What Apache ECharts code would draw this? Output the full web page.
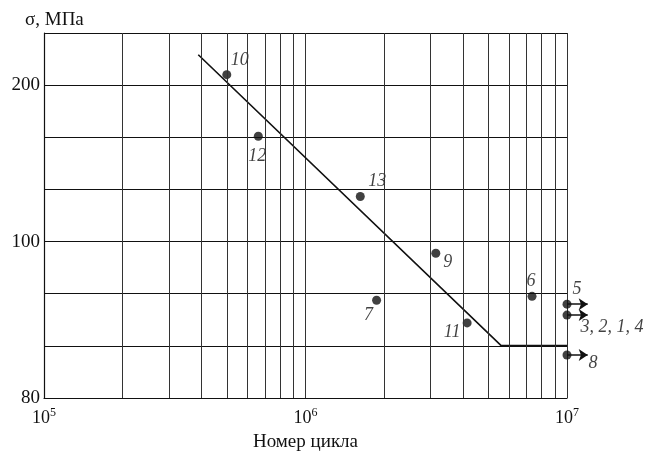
<!DOCTYPE html>
<html>
<head>
<meta charset="utf-8">
<script src="https://cdn.jsdelivr.net/npm/echarts@6/dist/echarts.min.js"></script>
<style>
  html, body { margin: 0; padding: 0; background: #fff; }
  #chart { width: 646px; height: 453px; }
</style>
</head>
<body>
<div id="chart"></div>
<script>
// Fatigue test results: stress amplitude vs. number of cycles
const pointLabels = ['10', '12', '13', '9', '7', '6', '11', '5', '3, 2, 1, 4', '8'];
const pointCycles = [5.0e5, 6.6e5, 1.62e6, 3.15e6, 1.87e6, 7.35e6, 4.15e6, 1e7, 1e7, 1e7];
const pointStress = [206.7, 167.3, 128.8, 98.5, 92.5, 93.0, 89.6, 92.0, 90.6, 85.5];

// Specimens that did not fail (run-outs) at the cycle limit
const runoutStress = [92.0, 90.6, 85.5];
const runoutCycles = 1e7;
const runoutArrowTo = 1.2e7;

// Fatigue curve: sloped part and endurance-limit plateau
const curveCycles = [3.89e5, 5.6e6, 1e7];
const curveStress = [219.4, 86.7, 86.7];

// Stress axis tick labels
const stressTicks = [80, 100, 200];

// Stress axis uses equal steps: 80→100 in 3 steps, 100→200 in 3 steps
function stressToUnit(s) {
  if (s <= 100) return (s - 80) / (20 / 3);
  return 3 + (s - 100) / (100 / 3);
}
const tickUnits = stressTicks.map(stressToUnit);

// Intermediate cycle gridlines 2..9 × 10^n
const minorCycles = [];
for (let e = 5; e < 7; e++) {
  for (let m = 2; m <= 9; m++) minorCycles.push(m * Math.pow(10, e));
}

const serif = '"Liberation Serif", "DejaVu Serif", serif';
const ink = '#111';

const labelOffsets = {
  '10': [13, -14], '12': [-1, 20], '13': [17, -15], '9': [12, 9],
  '7': [-8, 15], '6': [-1, -15], '11': [-15, 9], '5': [10, -15],
  '3, 2, 1, 4': [45, 12], '8': [26, 8]
};

const scatterData = pointCycles.map((c, i) => ({
  value: [c, stressToUnit(pointStress[i])],
  label: {
    show: true,
    formatter: pointLabels[i],
    position: 'inside',
    align: 'center',
    verticalAlign: 'middle',
    offset: labelOffsets[pointLabels[i]],
    fontFamily: serif,
    fontStyle: 'italic',
    fontSize: 18,
    color: '#111'
  }
}));

const chart = echarts.init(document.getElementById('chart'), null, { renderer: 'canvas' });
chart.setOption({
  backgroundColor: '#fff',
  animation: false,
  grid: { left: 44, right: 79, top: 33, bottom: 55, outerBoundsMode: 'none', containLabel: false },
  xAxis: {
    type: 'log',
    logBase: 10,
    min: 1e5,
    max: 1e7,
    name: 'Номер цикла',
    nameLocation: 'middle',
    nameGap: 35,
    nameTextStyle: { fontFamily: serif, fontSize: 19, color: '#111' },
    axisLine: { show: true, lineStyle: { color: ink, width: 1.2 } },
    axisTick: { show: false },
    splitLine: { show: true, lineStyle: { color: '#333', width: 1 } },
    axisLabel: {
      margin: 9,
      formatter: v => '{b|10}{s|' + Math.round(Math.log10(v)) + '}',
      rich: {
        b: { fontFamily: serif, fontSize: 18, color: '#111' },
        s: { fontFamily: serif, fontSize: 12, color: '#111', padding: [0, 0, 10, 0] }
      }
    }
  },
  yAxis: {
    type: 'value',
    min: 0,
    max: 7,
    interval: 1,
    axisLine: { show: true, lineStyle: { color: ink, width: 1.2 } },
    axisTick: { show: false },
    splitLine: { show: true, lineStyle: { color: ink, width: 1.2 } },
    axisLabel: {
      margin: 4,
      fontFamily: serif,
      fontSize: 19,
      color: '#111',
      formatter: v => {
        const i = tickUnits.findIndex(u => Math.abs(u - v) < 1e-6);
        return i >= 0 ? String(stressTicks[i]) : '';
      }
    }
  },
  graphic: [{
    type: 'text',
    left: 25,
    top: 11,
    style: { text: 'σ, МПа', font: '19px ' + serif, fill: '#111' }
  }],
  series: [
    {
      type: 'line',
      silent: true,
      data: [],
      markLine: {
        silent: true,
        symbol: ['none', 'none'],
        label: { show: false },
        lineStyle: { color: '#333', width: 1, type: 'solid' },
        data: minorCycles.map(c => ({ xAxis: c }))
      }
    },
    {
      type: 'line',
      symbol: 'none',
      lineStyle: { color: ink, width: 1.6 },
      data: curveCycles.map((c, i) => [c, stressToUnit(curveStress[i])])
    },
    {
      type: 'lines',
      coordinateSystem: 'cartesian2d',
      clip: false,
      symbol: ['none', 'arrow'],
      symbolSize: [0, 9],
      lineStyle: { color: ink, width: 1.5, opacity: 1 },
      data: runoutStress.map(s => ({
        coords: [[runoutCycles, stressToUnit(s)], [runoutArrowTo, stressToUnit(s)]]
      }))
    },
    {
      type: 'scatter',
      symbolSize: 9,
      clip: false,
      itemStyle: { color: ink },
      data: scatterData
    }
  ]
});
</script>
</body>
</html>
